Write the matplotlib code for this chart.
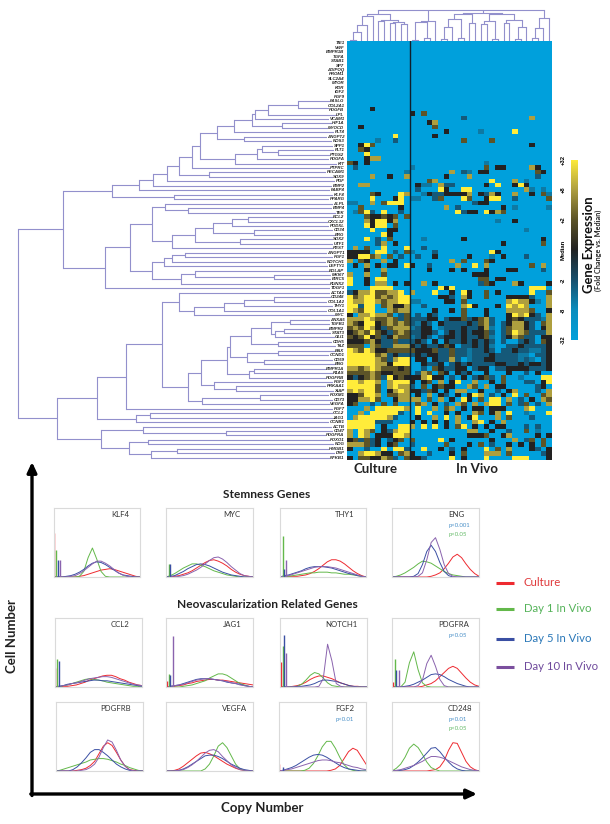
import numpy as np
import matplotlib
matplotlib.use("Agg")
import matplotlib.pyplot as plt
from matplotlib.colors import LinearSegmentedColormap

W, H = 610, 824

# heatmap -------------------------------------------------------------
genes = ["TIE1", "VWF", "BMPR1B", "TGFA", "STAB1", "SP7", "ADIPOQ", "PROM1", "SLC2A4", "MTOR",
         "KDR", "IGF2", "FGF9", "FASLG", "COL2A1", "PDGFB", "LPL", "VCAM1", "HIF1A", "MYOCD",
         "FLT4", "ANGPT2", "NOS3", "SPP1", "FLT1", "PTGS2", "PDGFA", "KIT", "PTPRC", "PECAM1",
         "SOX9", "PGF", "BMP2", "FABP4", "KLF4", "PPARG", "ALPL", "BMP4", "TEK", "BCL2",
         "CXCL12", "PODXL", "CD34", "ERG", "SOX2", "UTF1", "REST", "ANGPT1", "FGF1", "NOTCH1",
         "LEFTY1", "BGLAP", "MKI67", "BIRC5", "RUNX2", "TDGF1", "ACTA2", "CD248", "COL1A2", "THY1",
         "COL1A1", "MYC", "ANXA5", "TGFB1", "BMPR2", "STAT3", "GLI1", "CDH5", "TAZ", "BAX",
         "CCND1", "CD59", "ENG", "BMPR1A", "R1AS", "PDGFRB", "FGF2", "PRKAA1", "XIAP", "FOXM1",
         "CD73", "VEGFA", "FGF7", "CCL2", "JAG1", "CCNB1", "ACTB", "CD47", "PDGFRA", "FOXO1",
         "NOG", "HMGB1", "DSP", "NFKB1"]

# one letter per sample: . -32, a -6, b -3, c median, d +2, e +8, f +32
expr_culture = [
    "...........", "...........", "...........", "...........", "...........", "...........",
    "...........", "...........", "...........", "...........", "...........", "...........",
    "...........", "...........", "...........", "....c......", "...........", "...........",
    "...........", "..c........", "...........", "........f..", ".....a..b..", "..cfd......",
    "..dc.......", "...f.......", "...cee.....", "dc.c.......", ".b.........", "..........a",
    "....e..c..e", "...........", "..ee.......", "...........", "....dc...fe", "....f...cf.",
    "aa..e.dfff.", "..d......c.", ".adfb.f..b.", "...dccdcd.d", "...ecffce..", "...fcff.d..",
    "....f..cc..", "......fc...", "...f.b.d...", ".....be.c..", ".e.d..f...f", "cccc.ff.b.d",
    "ccffde.d.b.", "e.dc..e.c..", ".c.e.c.cc.f", "...c..e....", "e..e..d....", "f..c.ff....",
    "f..c.ee.c.c", "....ffff...", "bceefddeef.",
    "fdeffdedeff", "feeffedeeff", "ffbff.decce", "fedff..edee", "c.eefeed.bd", "eeefeddedbd",
    "edcffcdeded", "dedfecbdeee", "cdedfdcbded", "dcdfcdbcedd", "cccdecbbdbb", "ddd.edbbeee",
    "fedfeccdddd", "fffffdebcbb", "fffffedbeff", "fffffeecfff", "eedefedddcd", "ddddedccddd",
    "cbcdedbfcdc", "ffeffe.efff", "fffffd.efee", "efeffd.cefe", "ccdffe.ddee", "cceefd..cee",
    "cd..b.d.d..", "...e.fffffe", "..e.fffffb.", ".efffffeb..", "fffffbbb...", "fffff.c..ff",
    "e.fed.cbeff", "e.fe.cccffe", "cdbdbc.bcd.", "eeedbc.cd..", "c..b..f.ffb", "..effecc.de",
    "c.ddccedb.d",
]
expr_invivo = [
    ".........................", ".........................", ".........................",
    ".........................", ".........................", ".........................",
    ".........................", ".........................", ".........................",
    ".........................", ".........................", ".........................",
    ".........................", ".........................", ".........................",
    ".........................", "c.d......................", ".........b...........e...",
    "...ce....................", "....d....................", "......c.....a.....f......",
    "....c....................", ".........d....d..........", ".....................c...",
    ".........................", ".........................", ".........................",
    ".............a...........", "a............d.cc....ec..", ".......e.ba.cc........dc..",
    "......c...e...........b..", "...de.........f...e.a....", ".caa.ebb.....c.f..cfc....",
    ".b...fc..ff.........ea.a.", "..acbbcccce.cbec..e..c.da", "aa..bd...fd..cff..b.....d",
    "...........bcc...........", "......e.b.......c.a.....a", "........fbcc.fced........",
    ".........................", "...............a..c......", ".........................",
    "....................a....", ".........................", "..a......c.............c.",
    "................c......d.", "..b......................", "a...b.........fc.........d",
    ".b..c.....c...a.c...b....", ".......e.d...dc..........", "c..b....e..f.e.......d.e.",
    "...c...c.c...c...cc....b.", "...........ccc...........", "............dd.cc........",
    "..e.c.......bdc...ec....c", ".....fcf.............fff.", "e...f..c.fc..d.c.....f..d",
    ".....ccb.ec..d...ccccb..e", "aa....cc.d.......efeeca.e", "..b......efc...c.fefe...e",
    "....c..c.d...c...eeeed..c", ".b.cb....d...c...cfefcb.e", "bbbcc.bccdbcdeb..cdcbbbae",
    "bacb.cbbbbcbdeb.bceecb.de", "abcc.abbbcbbcea.bdeecb.ce", "bbccb.bcbcbccdb.bdfedbbbe",
    "abcb.bccbcbbcda.bcedbb.cc", "bcb.c.cbbcbcbcb.b..bcb.dc", "cbcbbcdc.bbcbca..bbcbbbbc",
    "dcccdbbdbbabbcb.bbcbbaabc", "bcbccbbdbbabbbcbbbbaa.bbc", ".cc.cbbeb.abbccbbbbaba.bc",
    "..cbbc.bcbcbbbbccbbcbccbc", "..b.dcbbcc.bcc.bbccccbbbc", ".bed.dc.cbc..c...c..b.c..",
    "ccefcc.b.c.bcdb.d..a...ff", "c.cd.e.cf..e..c.d...bb.cf", "b.d.cdcc..ed.e.cc.....bc.",
    "ccbdc.c.ee..c..b.ce...b.e", ".c.e.cb.c.cfe.b.c.f.d..de", "ee.d.e.c.fc.d.ff.e.b.c.ed",
    ".de.c.b.ed.e.eff.d.bd.b.e", ".f..e.de.c.cc.ccc...ef...", ".f.f..c.c..ed.ce.f..a...f",
    ".c..e.f.e.cf...e.d...b...", "c.c.c.c.e..ef.c.e........", "e.f.f.c.df.c.c.cc...b.b..",
    "..........ee..c..b..d.a..", "..........cccd..ce....c.c", "d....f.c......c...e.bd.d.",
    "b.....d...c.d.b..c.c.c.d.", "..f..c.b.c...f.d.e...cb.c", "c..b...c.d...eee.d.....bc",
    "ccb....f.c...f....fff...c",
]
level_values = {".": -32, "a": -6, "b": -3, "c": 0, "d": 2, "e": 8, "f": 32}
scale_values = [-32, -8, -2, 0, 2, 8, 32]
scale_labels = ["-32", "-8", "-2", "Median", "+2", "+8", "+32"]
scale_colors = ["#00A0DC", "#0B8DBD", "#174F6C", "#222222", "#5C5428", "#AE9F40", "#FFEC3A"]

# row tree, merge distances from the gene labels -------------------------
t = (47, 13, (9, 14, 15))
t = (77, t, 16)
t = (90, t, 17)
t = (93, t, (63, 18, 19))
t = (111, t, 20)
t = (128, t, (101, 21, 22))
t = (145, t, (110, (88, (83, 23, (67, 24, 25)), 26), 27))
t = (153, t, 28)
t = (166, t, (136, 29, 30))
t = (178, t, 31)
t = (192, t, 32)
t = (206, t, 33)
upper = (233, t, (171, 34, 35))
b1 = (180, 36, (157, 37, 38))
b2 = (173, (150, (132, (113, (97, 39, 40), 41), (91, 42, 43)), (105, 44, 45)), 46)
c1 = (181, (173, (160, 47, 48), 49), 50)
c2 = (164, (150, 51, (71, 52, 53)), 54)
middle = (240, (215, (193, b1, b2), (193, c1, c2)), 55)
d1 = (166, 56, (151, (121, (101, (71, 57, 58), 59), 60), 61))
e1 = (94, (74, (55, 62, 63), (70, (61, 64, 65), 66)), (67, 67, 68))
e2 = (98, (67, 69, 70), (81, 71, 72))
e4 = (96, (91, 73, 74), 75)
e7 = (144, (118, (115, e1, e2), e4), (131, 76, (109, 77, 78)))
e9 = (157, e7, (143, (85, 79, 80), 81))
f2 = (219, (183, d1, e9), 82)
g1 = (248, f2, (209, (195, 83, 84), 85))
h1 = (202, 86, (119, 87, 88))
h2 = (216, (197, 89, 90), (194, (168, 91, 92), 93))
lower = (288, g1, (244, h1, h2))
row_tree = (327, (282, upper, middle), lower)

# sample tree, merge heights above the heatmap --------------------------
culture_tree = (27, (25, (16, (9, (1, 0, 1), 2), 3), 4),
                (21, (20, 5, 6), (19, (18, 7, 8), (17, 9, 10))))
g2_left = (27, (22, (14, (2, 16, 17), 18), (3, 19, 20)), (18, 21, 22))
g2_right = (27, (20, (17, 23, 24), (2, 25, 26)), (21, (18, 27, 28), (14, (2, 29, 30), 31)))
g3_tree = (23, (13, (3, 32, 33), 34), 35)
col_tree = (31, culture_tree, (20, (19, (1, 11, 12), (3, 13, 14)), 15),
            (28, g2_left, g2_right), g3_tree)

# distribution panels: percent of panel height on a 5 % copy number grid ---
klf4_culture = [0, 0, 0, 0, 0, 0, 1, 2, 4, 6, 8, 10, 11, 12, 11, 9, 7, 5, 3, 1, 0]
klf4_day1 = [0, 0, 0, 0, 0, 0, 1, 8, 28, 42, 26, 8, 1, 0, 0, 0, 0, 0, 0, 0, 0]
klf4_day5 = [0, 0, 0, 1, 2, 4, 7, 11, 16, 20, 22, 21, 18, 14, 10, 6, 3, 2, 1, 0, 0]
klf4_day10 = [0, 0, 0, 0, 1, 2, 5, 9, 14, 19, 23, 23, 20, 16, 11, 6, 3, 1, 0, 0, 0]
myc_culture = [0, 0, 1, 2, 4, 6, 9, 13, 17, 21, 24, 25, 23, 20, 16, 11, 7, 4, 2, 1, 0]
myc_day1 = [0, 2, 5, 9, 13, 16, 19, 19, 17, 15, 12, 9, 7, 5, 3, 2, 1, 0, 0, 0, 0]
myc_day5 = [0, 1, 2, 5, 8, 12, 15, 18, 19, 18, 16, 13, 10, 7, 5, 3, 2, 1, 0, 0, 0]
myc_day10 = [0, 0, 0, 1, 2, 4, 7, 10, 14, 19, 24, 28, 29, 26, 21, 15, 10, 5, 2, 1, 0]
thy1_culture = [0, 0, 1, 1, 1, 2, 3, 5, 8, 12, 17, 22, 25, 25, 23, 19, 14, 9, 5, 2, 0]
thy1_day1 = [0, 1, 1, 2, 3, 4, 5, 6, 6, 7, 7, 7, 6, 6, 5, 4, 4, 3, 2, 1, 0]
thy1_day5 = [0, 2, 3, 5, 7, 9, 12, 14, 15, 15, 15, 14, 13, 11, 9, 7, 5, 4, 2, 1, 0]
thy1_day10 = [0, 1, 2, 4, 6, 8, 10, 12, 14, 15, 15, 15, 14, 13, 11, 9, 7, 5, 3, 1, 0]
eng_culture = [0, 0, 0, 0, 0, 0, 0, 0, 0, 1, 3, 6, 12, 20, 29, 33, 28, 19, 11, 5, 1]
eng_day1 = [0, 1, 3, 6, 10, 14, 19, 23, 22, 20, 16, 12, 8, 5, 3, 2, 1, 0, 0, 0, 0]
eng_day5 = [0, 0, 0, 0, 0, 1, 5, 18, 37, 46, 37, 21, 8, 2, 0, 0, 0, 0, 0, 0, 0]
eng_day10 = [0, 0, 0, 0, 0, 0, 1, 6, 25, 50, 57, 40, 18, 5, 1, 0, 0, 0, 0, 0, 0]
ccl2_culture = [0, 0, 1, 1, 2, 3, 5, 7, 10, 12, 14, 16, 17, 17, 15, 12, 10, 7, 5, 3, 2]
ccl2_day1 = [0, 0, 2, 3, 5, 7, 9, 11, 12, 11, 10, 9, 7, 6, 5, 4, 3, 2, 1, 1, 0]
ccl2_day5 = [0, 1, 2, 4, 5, 6, 7, 8, 9, 10, 10, 9, 9, 8, 7, 6, 5, 4, 3, 2, 1]
ccl2_day10 = [0, 1, 2, 3, 5, 6, 8, 10, 12, 13, 14, 15, 15, 14, 12, 10, 8, 6, 4, 3, 2]
jag1_culture = [0, 0, 1, 2, 3, 5, 6, 8, 9, 10, 11, 11, 10, 10, 9, 8, 7, 6, 5, 4, 3]
jag1_day1 = [0, 0, 0, 0, 1, 2, 3, 5, 7, 9, 13, 16, 19, 19, 17, 13, 9, 5, 3, 1, 0]
jag1_day5 = [0, 1, 2, 3, 5, 7, 9, 11, 12, 12, 12, 11, 10, 9, 7, 6, 5, 4, 2, 1, 0]
jag1_day10 = [0, 1, 2, 3, 4, 6, 8, 10, 11, 12, 12, 11, 10, 9, 8, 6, 5, 3, 2, 1, 0]
notch1_culture = [0, 0, 0, 1, 2, 4, 7, 11, 14, 16, 16, 14, 12, 9, 6, 4, 2, 1, 1, 0, 0]
notch1_day1 = [0, 0, 0, 0, 1, 4, 10, 17, 21, 19, 13, 6, 2, 1, 0, 0, 0, 0, 0, 0, 0]
notch1_day5 = [0, 0, 0, 0, 1, 1, 2, 3, 5, 8, 10, 10, 9, 8, 6, 4, 2, 1, 0, 0, 0]
notch1_day10 = [0, 0, 0, 0, 0, 0, 0, 0, 0, 1, 12, 62, 38, 5, 1, 0, 0, 0, 0, 0, 0]
pdgfra_culture = [0, 0, 0, 0, 0, 0, 0, 1, 3, 5, 9, 15, 21, 27, 30, 27, 20, 13, 7, 3, 1]
pdgfra_day1 = [0, 0, 0, 7, 35, 51, 25, 6, 1, 0, 0, 0, 0, 0, 0, 0, 0, 0, 0, 0, 0]
pdgfra_day5 = [0, 0, 0, 1, 2, 4, 7, 10, 14, 18, 19, 18, 15, 11, 8, 5, 3, 1, 0, 0, 0]
pdgfra_day10 = [0, 0, 0, 0, 0, 0, 2, 10, 34, 46, 30, 11, 2, 0, 0, 0, 0, 0, 0, 0, 0]
pdgfrb_culture = [0, 0, 0, 0, 0, 1, 2, 4, 8, 14, 25, 36, 41, 37, 27, 16, 7, 2, 1, 0, 0]
pdgfrb_day1 = [0, 1, 3, 5, 7, 9, 11, 13, 16, 17, 18, 18, 17, 15, 13, 10, 8, 5, 3, 1, 0]
pdgfrb_day5 = [0, 0, 0, 0, 2, 6, 12, 19, 27, 31, 31, 27, 22, 16, 10, 6, 3, 1, 0, 0, 0]
pdgfrb_day10 = [0, 0, 0, 0, 0, 0, 1, 2, 5, 10, 20, 34, 45, 42, 30, 16, 7, 2, 0, 0, 0]
vegfa_culture = [0, 0, 1, 3, 7, 12, 17, 22, 26, 27, 25, 22, 18, 14, 10, 7, 4, 2, 1, 0, 0]
vegfa_day1 = [0, 0, 0, 0, 0, 0, 0, 0, 0, 3, 10, 22, 36, 41, 34, 22, 10, 3, 1, 0, 0]
vegfa_day5 = [0, 0, 0, 1, 3, 6, 10, 14, 18, 22, 23, 23, 21, 18, 14, 10, 7, 4, 2, 1, 0]
vegfa_day10 = [0, 0, 0, 1, 2, 5, 9, 14, 20, 26, 30, 31, 28, 21, 15, 9, 5, 2, 1, 0, 0]
fgf2_culture = [0, 0, 0, 0, 0, 0, 0, 0, 0, 0, 0, 0, 1, 3, 8, 18, 28, 33, 30, 20, 10]
fgf2_day1 = [0, 0, 0, 0, 0, 0, 1, 4, 11, 22, 35, 43, 43, 33, 20, 9, 3, 1, 0, 0, 0]
fgf2_day5 = [0, 1, 3, 5, 8, 12, 16, 20, 23, 24, 23, 20, 16, 12, 8, 5, 3, 2, 1, 0, 0]
fgf2_day10 = [0, 1, 2, 3, 5, 7, 9, 11, 13, 15, 16, 16, 15, 13, 12, 10, 8, 6, 5, 3, 2]
cd248_culture = [0, 0, 0, 0, 0, 0, 0, 0, 0, 1, 2, 6, 15, 30, 41, 40, 27, 14, 6, 2, 0]
cd248_day1 = [0, 4, 10, 20, 33, 39, 34, 24, 13, 5, 2, 0, 0, 0, 0, 0, 0, 0, 0, 0, 0]
cd248_day5 = [0, 0, 1, 2, 4, 8, 13, 19, 26, 33, 34, 28, 20, 13, 7, 3, 1, 0, 0, 0, 0]
cd248_day10 = [0, 1, 2, 4, 6, 8, 11, 14, 18, 21, 21, 20, 18, 15, 12, 9, 6, 4, 2, 1, 0]

# zero bin spikes: height for culture, day 1, day 5, day 10 (0 = none)
klf4_spikes = [64, 39, 24, 24]
myc_spikes = [0, 19, 19, 0]
thy1_spikes = [0, 60, 12, 24]
eng_spikes = [0, 0, 0, 0]
ccl2_spikes = [27, 40, 38, 0]
jag1_spikes = [9, 19, 18, 74]
notch1_spikes = [36, 60, 75, 50]
pdgfra_spikes = [7, 40, 24, 24]
pdgfrb_spikes = [0, 0, 0, 0]
vegfa_spikes = [0, 0, 0, 0]
fgf2_spikes = [10, 0, 6, 0]
cd248_spikes = [0, 0, 0, 0]

series_names = ["Culture", "Day 1 In Vivo", "Day 5 In Vivo", "Day 10 In Vivo"]
curve_colors = ["#EE2A30", "#63B84A", "#3A4FA3", "#8A63AE"]
legend_line_colors = ["#EE2A30", "#63B84A", "#3A4FA3", "#7B4F9E"]
legend_text_colors = ["#E03A3C", "#55B35A", "#2B78B8", "#6F4A9C"]

# name, frame (left, top, right, bottom), label centre, p values
panels = [
    ("KLF4", (53.5, 508, 140, 577), 120, [], (klf4_culture, klf4_day1, klf4_day5, klf4_day10), klf4_spikes),
    ("MYC", (166, 508, 253, 577), 232, [], (myc_culture, myc_day1, myc_day5, myc_day10), myc_spikes),
    ("THY1", (280, 508, 366, 577), 345, [], (thy1_culture, thy1_day1, thy1_day5, thy1_day10), thy1_spikes),
    ("ENG", (392, 508, 479, 577), 456, [("p<0.001", 2), ("p<0.05", 1)], (eng_culture, eng_day1, eng_day5, eng_day10), eng_spikes),
    ("CCL2", (54.5, 618, 142, 687), 120, [], (ccl2_culture, ccl2_day1, ccl2_day5, ccl2_day10), ccl2_spikes),
    ("JAG1", (166, 618, 253, 687), 232, [], (jag1_culture, jag1_day1, jag1_day5, jag1_day10), jag1_spikes),
    ("NOTCH1", (280, 618, 366.5, 687), 341, [], (notch1_culture, notch1_day1, notch1_day5, notch1_day10), notch1_spikes),
    ("PDGFRA", (392, 618, 479, 687), 454, [("p<0.05", 2)], (pdgfra_culture, pdgfra_day1, pdgfra_day5, pdgfra_day10), pdgfra_spikes),
    ("PDGFRB", (55.5, 702, 142.5, 771), 116, [], (pdgfrb_culture, pdgfrb_day1, pdgfrb_day5, pdgfrb_day10), pdgfrb_spikes),
    ("VEGFA", (166, 702, 253, 771), 235, [], (vegfa_culture, vegfa_day1, vegfa_day5, vegfa_day10), vegfa_spikes),
    ("FGF2", (278.5, 702, 366, 771), 345, [("p<0.01", 2)], (fgf2_culture, fgf2_day1, fgf2_day5, fgf2_day10), fgf2_spikes),
    ("CD248", (392, 702, 479, 771), 460, [("p<0.01", 2), ("p<0.05", 1)], (cd248_culture, cd248_day1, cd248_day5, cd248_day10), cd248_spikes),
]

plt.rcParams["font.family"] = ["Lato", "DejaVu Sans"]
fig = plt.figure(figsize=(W / 100, H / 100), dpi=100, facecolor="white")


def px_axes(x0, y0, x1, y1, **kw):
    return fig.add_axes([x0 / W, 1 - y1 / H, (x1 - x0) / W, (y1 - y0) / H], **kw)


def to_pos(v):
    return np.interp(v, scale_values, np.linspace(0, 1, len(scale_values)))


def draw_row_tree(ax, node):
    if isinstance(node, int):
        return 0, node + 0.5
    d = node[0]
    ys = []
    for child in node[1:]:
        cd, cy = draw_row_tree(ax, child)
        ax.plot([d, cd], [cy, cy], color=tree_color, lw=tree_lw, solid_capstyle="butt")
        ys.append(cy)
    ax.plot([d, d], [min(ys), max(ys)], color=tree_color, lw=tree_lw)
    return d, (min(ys) + max(ys)) / 2


def draw_col_tree(ax, node):
    if isinstance(node, int):
        return node + 0.5, 0
    h = node[0]
    xs = []
    for child in node[1:]:
        cx, ch = draw_col_tree(ax, child)
        ax.plot([cx, cx], [h, ch], color=tree_color, lw=tree_lw, solid_capstyle="butt")
        xs.append(cx)
    ax.plot([min(xs), max(xs)], [h, h], color=tree_color, lw=tree_lw)
    return (min(xs) + max(xs)) / 2, h


tree_color = "#9290CC"
tree_lw = 0.8

# heatmap
hm_left, hm_top, hm_right, hm_bottom = 347, 41, 552, 460
lookup = np.vectorize(level_values.get)
# a few rows were read short or long, keep 11 + 25 samples
matrix = np.array([list(a[:11].ljust(11, ".") + b[:25].ljust(25, "."))
                   for a, b in zip(expr_culture, expr_invivo)])
values = lookup(matrix).astype(float)
cmap = LinearSegmentedColormap.from_list("expr", scale_colors, N=256)
ax_hm = px_axes(hm_left, hm_top, hm_right, hm_bottom)
ax_hm.imshow(to_pos(values), cmap=cmap, vmin=0, vmax=1, aspect="auto", interpolation="nearest",
             extent=(0, 36, len(genes), 0))
ax_hm.axvline(11, color="#10202c", lw=1.0)
ax_hm.axis("off")

# trees
ax_rt = px_axes(0, hm_top, 345, hm_bottom)
draw_row_tree(ax_rt, row_tree)
ax_rt.set_xlim(345, 0)
ax_rt.set_ylim(len(genes), 0)
ax_rt.axis("off")

ax_ct = px_axes(hm_left, 8, hm_right, hm_top)
draw_col_tree(ax_ct, col_tree)
ax_ct.set_xlim(0, 36)
ax_ct.set_ylim(0, 33)
ax_ct.axis("off")

# page layer for all the free text, kept above the panels
page = fig.add_axes([0, 0, 1, 1], facecolor="none")
page.set_zorder(10)
page.set_xlim(0, W)
page.set_ylim(H, 0)
page.axis("off")

row_px = (hm_bottom - hm_top) / len(genes)
for i, g in enumerate(genes):
    page.text(344.5, hm_top + (i + 0.5) * row_px, g, ha="right", va="center", fontsize=3.2,
              family="Liberation Sans", weight="bold", style="italic", color="#222222",
              bbox=dict(fc="white", ec="none", pad=0.2))

page.text(375, 469, "Culture", ha="center", va="center", fontsize=9.5, weight="bold", color="#222222")
page.text(477, 469, "In Vivo", ha="center", va="center", fontsize=9.5, weight="bold", color="#222222")

# colour scale
ax_cb = px_axes(571, 160, 578, 340)
gradient = np.linspace(1, 0, 256).reshape(-1, 1)
ax_cb.imshow(gradient, cmap=cmap, vmin=0, vmax=1, aspect="auto", extent=(0, 1, 0, 1))
ax_cb.set_xticks([])
ax_cb.set_yticks(np.linspace(0, 1, len(scale_labels)))
ax_cb.set_yticklabels(scale_labels, rotation=90, va="center", fontsize=4.2, weight="bold",
                      family="Liberation Sans")
ax_cb.tick_params(axis="y", length=0, pad=4)
for s in ax_cb.spines.values():
    s.set_visible(False)
page.text(589, 245, "Gene Expression", rotation=90, ha="center", va="center", fontsize=9.4,
          weight="bold", color="#111111")
page.text(598, 250, "(Fold Change vs. Median)", rotation=90, ha="center", va="center", fontsize=5.2,
          weight="bold", color="#222222")

# distribution panels
grid = np.arange(0, 101, 5)
spike_x = [1, 3, 5, 7.5]
for name, (x0, y0, x1, y1), label_x, pvals, curves, spikes in panels:
    ax = px_axes(x0, y0, x1, y1)
    for curve, color in zip(curves, curve_colors):
        ax.plot(grid, curve, color=color, lw=0.7)
    for sx, height, color in zip(spike_x, spikes, curve_colors):
        if height:
            ax.plot([sx, sx], [0, height], color=color, lw=1.0, solid_capstyle="butt")
    ax.set_xlim(0, 100)
    ax.set_ylim(0, 100)
    ax.set_xticks([])
    ax.set_yticks([])
    for s in ax.spines.values():
        s.set_color("#DADADA")
        s.set_linewidth(0.8)
    page.text(label_x, y0 + 6.5, name, ha="center", va="center", fontsize=5.6, color="#333333")
    for k, (ptext, idx) in enumerate(pvals):
        px = 449 if x0 > 390 else 336
        page.text(px, y0 + 17 + 9.5 * k, ptext, ha="left", va="center", fontsize=4.3,
                  color="#4A90C8" if idx == 2 else "#66BB6A")

page.text(267, 494, "Stemness Genes", ha="center", va="center", fontsize=8.6, weight="bold", color="#222222")
page.text(267, 604, "Neovascularization Related Genes", ha="center", va="center", fontsize=8.6,
          weight="bold", color="#222222")

# axes arrows
page.annotate("", xy=(32, 462), xytext=(32, 795.5),
              arrowprops=dict(arrowstyle="-|>,head_width=0.28,head_length=0.6", lw=2.4, color="black",
                              shrinkA=0, shrinkB=0))
page.annotate("", xy=(477, 794), xytext=(30.8, 794),
              arrowprops=dict(arrowstyle="-|>,head_width=0.28,head_length=0.6", lw=2.4, color="black",
                              shrinkA=0, shrinkB=0))
page.text(12, 636, "Cell Number", rotation=90, ha="center", va="center", fontsize=9.5, weight="bold", color="#222222")
page.text(262, 808, "Copy Number", ha="center", va="center", fontsize=9.5, weight="bold", color="#222222")

# legend
legend_y = [583, 609, 639, 667]
for name, y, lc, tc in zip(series_names, legend_y, legend_line_colors, legend_text_colors):
    page.plot([496, 514], [y, y], color=lc, lw=2.2, solid_capstyle="butt")
    page.text(524, y, name, ha="left", va="center", fontsize=8.2, color=tc)

fig.savefig("out.png", dpi=100)
